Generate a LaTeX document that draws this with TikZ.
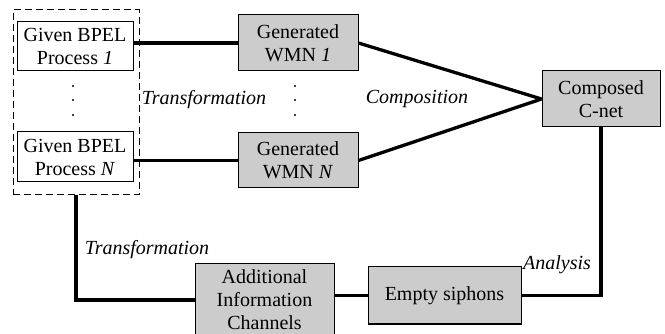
\documentclass[tikz,border=0pt]{standalone}
\usepackage{fontspec}
\setmainfont{Liberation Serif}
\definecolor{boxgray}{RGB}{204,204,204}
\begin{document}
\begin{tikzpicture}[x=1pt,y=-1pt,
  every node/.style={font=\fontsize{20}{23}\selectfont},
  whitebox/.style={draw,line width=1pt,fill=white,align=center,inner sep=0pt},
  graybox/.style={draw,line width=1pt,fill=boxgray,align=center,inner sep=0pt},
  conn/.style={line width=3.3pt},
  lbl/.style={font=\fontsize{20}{23}\selectfont\itshape,inner sep=0pt},
  dotc/.style={fill=black,draw=none}]
\useasboundingbox (0,0) rectangle (665,334);
\node[draw,dash pattern=on 7pt off 4pt,line width=1pt,minimum width=126pt,minimum height=185pt,inner sep=0pt] (dash) at (76,102.5) {};
\node[whitebox,minimum width=116pt,minimum height=49pt] (bp1) at (75,46.5) {Given BPEL\\Process \textit{1}};
\node[whitebox,minimum width=116pt,minimum height=50pt] (bpN) at (75,157) {Given BPEL\\Process \textit{N}};
\node[graybox,minimum width=120pt,minimum height=56pt] (wm1) at (298,43) {Generated\\WMN \textit{1}};
\node[graybox,minimum width=120pt,minimum height=55pt] (wmN) at (298,160.5) {Generated\\WMN \textit{N}};
\node[graybox,minimum width=118pt,minimum height=56pt] (cnet) at (601,99) {Composed\\C-net};
\node[graybox,minimum width=139pt,minimum height=72pt] (add) at (264.5,300) {Additional\\Information\\Channels};
\node[graybox,minimum width=153pt,minimum height=57pt] (emp) at (444.5,295.5) {Empty siphons};
\draw[conn] (bp1.east |- wm1.west) -- (wm1.west);
\draw[conn] (bpN.east |- wmN.west) -- (wmN.west);
\draw[conn] (wm1.east) -- (cnet.west);
\draw[conn] (wmN.east) -- (cnet.west);
\draw[conn] (cnet.south) |- (emp.east);
\draw[conn] (add.east |- emp.west) -- (emp.west);
\draw[conn] (dash.south) |- (add.west);
\node[lbl] (t1) at (204,100) {Transformation};
\node[lbl] (comp) at (417,99) {Composition};
\node[lbl] (t2) at (147,250) {Transformation};
\node[lbl] (ana) at (557,265) {Analysis};
\foreach \yy in {86,100,115}{
  \fill[dotc] (73,\yy) circle (1.1pt);
  \fill[dotc] (295,\yy) circle (1.1pt);
}
\end{tikzpicture}
\end{document}
